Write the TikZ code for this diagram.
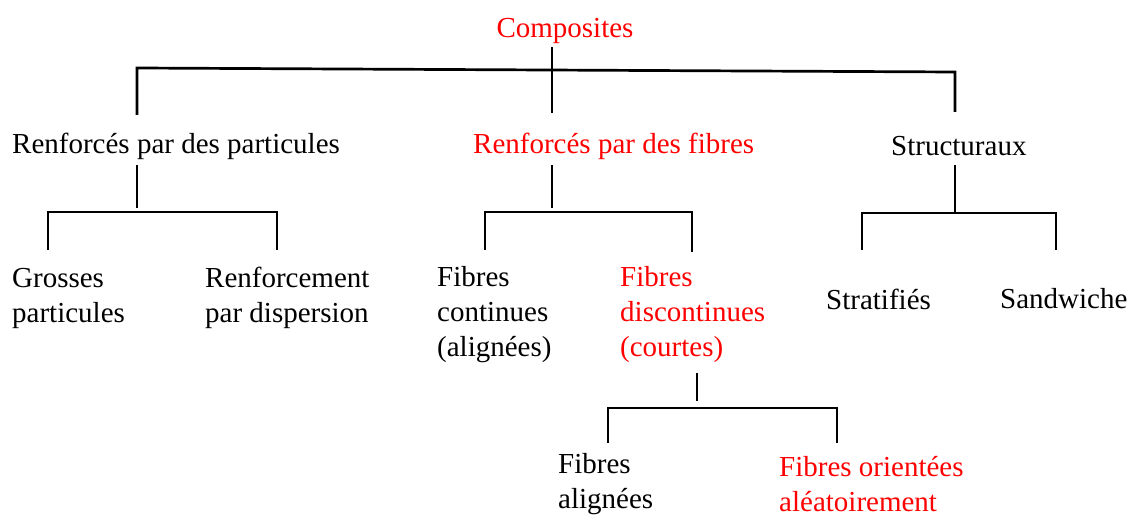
\documentclass[tikz,border=0pt]{standalone}
\usepackage{fontspec}
\setmainfont{Liberation Serif}
\begin{document}
\begin{tikzpicture}[x=1pt,y=-1pt,
  lbl/.style={inner sep=0pt, font=\fontsize{29}{35}\selectfont, align=left, anchor=west},
  hl/.style={text=red},
  ln/.style={line width=2.7pt}]
\useasboundingbox (0,0) rectangle (1135,518);
% nodes
\node[lbl,hl,anchor=center] (comp) at (565,31) {Composites};
\node[lbl] (part) at (12,146) {Renforcés par des particules};
\node[lbl,hl] (fib) at (473,146) {Renforcés par des fibres};
\node[lbl] (struct) at (891,146) {Structuraux};
\node[lbl] (gros) at (12,298) {Grosses\\particules};
\node[lbl] (disp) at (205,298) {Renforcement\\par dispersion};
\node[lbl] (cont) at (437,315) {Fibres\\continues\\(alignées)};
\node[lbl,hl] (disc) at (620,315) {Fibres\\discontinues\\(courtes)};
\node[lbl] (alig) at (558,484) {Fibres\\alignées};
\node[lbl,hl] (alea) at (779,484) {Fibres orientées\\aléatoirement};
\node[lbl] (strat) at (826,299) {Stratifiés};
\node[lbl] (sand) at (1000,299) {Sandwiche};
% junction coordinates
\coordinate (c1) at (552,47);   \coordinate (t0) at (552,113);
\coordinate (tl) at (137,68);   \coordinate (tr) at (955,72);
\coordinate (tlb) at (137,115); \coordinate (trb) at (955,112);
\coordinate (p1) at (137,165);  \coordinate (p0) at (137,208);
\coordinate (f1) at (552,165);  \coordinate (f0) at (552,208);
\coordinate (s1) at (955,165);  \coordinate (s0) at (955,212);
\coordinate (d1) at (697,373);  \coordinate (d0) at (697,401);
% top level
\draw[ln] (c1) -- (t0);
\draw[ln] (tlb) -- (tl) -- (tr) -- (trb);
% particules
\draw[ln] (p1) -- (p0);
\draw[ln] (48,250) -- (48,212) -- (277,212) -- (277,250);
% fibres
\draw[ln] (f1) -- (f0);
\draw[ln] (485,250) -- (485,212) -- (692,212) -- (692,252);
% structuraux
\draw[ln] (s1) -- (s0);
\draw[ln] (862,250) -- (862,213) -- (1056,213) -- (1056,250);
% discontinues
\draw[ln] (d1) -- (d0);
\draw[ln] (608,443) -- (608,408) -- (837,408) -- (837,443);
\end{tikzpicture}
\end{document}
